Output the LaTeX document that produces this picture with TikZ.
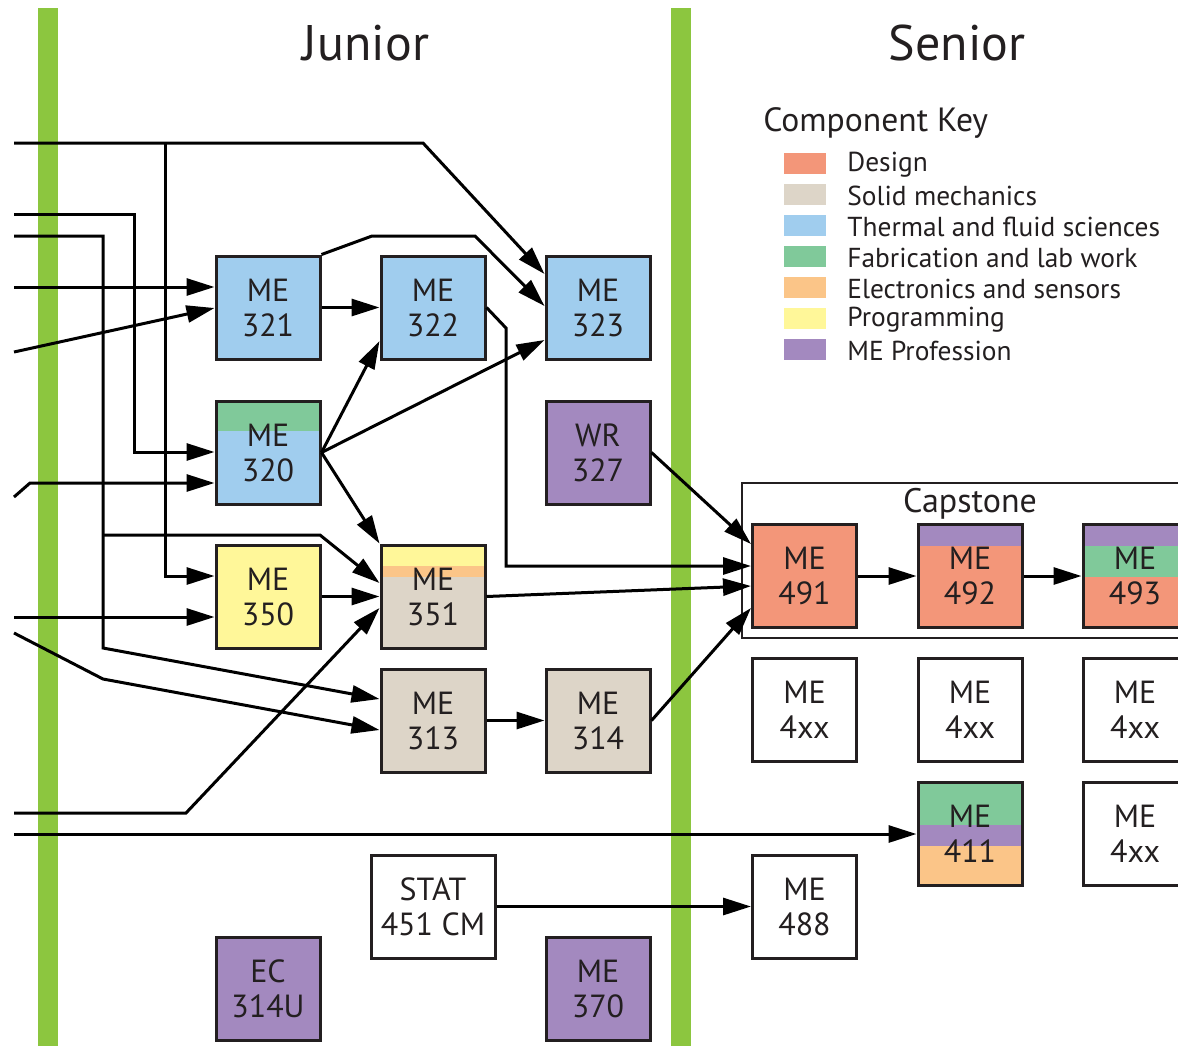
\documentclass[tikz,border=0pt]{standalone}
\usepackage{fontspec}
\setmainfont{PT Sans}
\usetikzlibrary{arrows.meta}
\definecolor{design}{RGB}{243,150,121}
\definecolor{solid}{RGB}{221,213,200}
\definecolor{thermal}{RGB}{160,205,238}
\definecolor{fab}{RGB}{128,201,154}
\definecolor{elec}{RGB}{251,197,136}
\definecolor{prog}{RGB}{255,247,153}
\definecolor{prof}{RGB}{163,137,191}
\definecolor{yearbar}{RGB}{140,198,63}
\definecolor{ink}{RGB}{35,31,32}
\newcommand\band[3]{\fill[#1] ([yshift=-#2]path picture bounding box.north west) rectangle ([yshift=-#3]path picture bounding box.north east);}
\tikzset{
  crs/.style      = {draw=ink, line width=1.5pt, minimum width=52pt, minimum height=51.5pt,
                     inner sep=0pt, align=center, text=ink, font=\fontsize{16}{17.5}\selectfont},
  wide crs/.style = {crs, minimum width=62pt},
  bands/.style    = {path picture={#1}},
  req/.style      = {-{Triangle[length=14pt, width=8.5pt]}, line width=1.5pt, draw=black},
  yr/.style       = {font=\fontsize{25}{30}\selectfont, text=ink},
  key/.style      = {fill=#1, minimum width=21pt, minimum height=10.5pt, inner sep=0pt},
  keytxt/.style   = {anchor=west, font=\fontsize{13.7}{15}\selectfont, text=ink, inner sep=0pt},
}

\begin{document}
\begin{tikzpicture}[x=0.5pt, y=-0.5pt]
  \useasboundingbox (0,0) rectangle (1178,1046);
  \clip (0,0) rectangle (1178,1046);
  \fill[white] (0,0) rectangle (1178,1046);

  % year dividers
  \fill[yearbar] (38,8) rectangle (58,1046);
  \fill[yearbar] (671,8) rectangle (691,1046);
  \node[yr] (junior) at (366,43) {Junior};
  \node[yr] (senior) at (957,43) {Senior};

  % component key
  \node[keytxt, font=\fontsize{16.8}{18}\selectfont] (keyhead) at (763,123) {Component Key};
  \node[key=design]  (kdes)  at (805,163) {};
  \node[keytxt] at (847,165) {Design};
  \node[key=solid]   (ksol)  at (805,194) {};
  \node[keytxt] at (847,196) {Solid mechanics};
  \node[key=thermal] (kthm)  at (805,225) {};
  \node[keytxt] at (847,227) {Thermal and fluid sciences};
  \node[key=fab]     (kfab)  at (805,256) {};
  \node[keytxt] at (847,258) {Fabrication and lab work};
  \node[key=elec]    (kele)  at (805,287) {};
  \node[keytxt] at (847,289) {Electronics and sensors};
  \node[key=prog]    (kprg)  at (805,318) {};
  \node[keytxt] at (847,320) {Programming};
  \node[key=prof]    (kprf)  at (805,349) {};
  \node[keytxt] at (847,351) {ME Profession};

  % capstone frame
  \draw[ink, line width=1.2pt] (742,483) rectangle (1200,638);
  \node[text=ink, font=\fontsize{17}{18}\selectfont] (capstone) at (970,504) {Capstone};

  % junior courses
  \node[crs, fill=thermal] (me321) at (268,307.5) {ME\\321};
  \node[crs, fill=thermal] (me322) at (433,307.5) {ME\\322};
  \node[crs, fill=thermal] (me323) at (598,307.5) {ME\\323};
  \node[crs, fill=thermal, bands={\band{fab}{0pt}{15pt}}] (me320) at (268,452.5) {ME\\320};
  \node[crs, fill=prof] (wr327) at (598,452.5) {WR\\327};
  \node[crs, fill=prog] (me350) at (268,596.5) {ME\\350};
  \node[crs, fill=solid, bands={\band{prog}{0pt}{10.5pt}\band{elec}{10.5pt}{16pt}}] (me351) at (433,596.5) {ME\\351};
  \node[crs, fill=solid] (me313) at (433,720.5) {ME\\313};
  \node[crs, fill=solid] (me314) at (598,720.5) {ME\\314};
  \node[wide crs, fill=white] (stat451) at (433,906.5) {STAT\\451 CM};
  \node[crs, fill=prof] (ec314u) at (268,988.5) {EC\\314U};
  \node[crs, fill=prof] (me370) at (598,988.5) {ME\\370};

  % senior courses
  \node[crs, fill=design] (me491) at (804.5,576) {ME\\491};
  \node[crs, fill=design, bands={\band{prof}{0pt}{10.5pt}}] (me492) at (970,576) {ME\\492};
  \node[crs, fill=design, bands={\band{prof}{0pt}{10.5pt}\band{fab}{10.5pt}{26pt}}] (me493) at (1135,576) {ME\\493};
  \node[crs, fill=white] (elecA) at (804.5,710) {ME\\4xx};
  \node[crs, fill=white] (elecB) at (970,710) {ME\\4xx};
  \node[crs, fill=white] (elecC) at (1135,710) {ME\\4xx};
  \node[crs, fill=elec, bands={\band{fab}{0pt}{21pt}\band{prof}{21pt}{31.5pt}}] (me411) at (970,834) {ME\\411};
  \node[crs, fill=white] (elecD) at (1135,834) {ME\\4xx};
  \node[crs, fill=white] (me488) at (804.5,906.5) {ME\\488};

  % prerequisites coming in from the sophomore year
  \coordinate (inA) at (14,143);
  \coordinate (inB) at (14,214);
  \coordinate (inC) at (14,236);
  \coordinate (inD) at (14,287);
  \coordinate (inE) at (14,352);
  \coordinate (inF) at (14,497);
  \coordinate (inG) at (14,617);
  \coordinate (inH) at (14,633);
  \coordinate (inI) at (14,813);
  \coordinate (inJ) at (14,834);
  \coordinate (jA) at (165,143);
  \coordinate (jC) at (103,535);

  \draw[req] (inA) -- (423,143) -- (me323.west |- 0,274);
  \draw[req] (jA) |- (me350.west |- 0,576);
  \draw[req] (inB) -| (134,452) -- (me320.west |- 0,452);
  \draw[req] (inC) -| (103,648) -- (me313.west |- 0,699);
  \draw[req] (jC) -- (320,535) -- (me351.west |- 0,583);
  \draw[req] (inD) -- (me321.west |- 0,287);
  \draw[req] (inE) -- (me321.west |- 0,308);
  \draw[req] (inF) -- (30,483) -- (me320.west |- 0,483);
  \draw[req] (inG) -- (me350.west |- 0,617);
  \draw[req] (inH) -- (103,679) -- (me313.west |- 0,730);
  \draw[req] (inI) -- (186,813) -- (me351.west |- 0,608);
  \draw[req] (inJ) -- (me411.west |- 0,834);

  % within the junior year and on to the senior year
  \draw[req] (me321) -- (me322);
  \draw[req] (me321.north east) -- (372,236) -- (475,236) -- (me323.west |- 0,306);
  \draw[req] (me320.east) -- (me322.west |- 0,341);
  \draw[req] (me320.east) -- (me323.west |- 0,340);
  \draw[req] (me320.east) -- (me351.north west);
  \draw[req] (me350) -- (me351);
  \draw[req] (me313) -- (me314);
  \draw[req] (me322.east) -- (506,328) -- (506,566) -- (me491.west |- 0,566);
  \draw[req] (me351.east) -- (me491.west |- 0,586);
  \draw[req] (wr327.east) -- (me491.west |- 0,544);
  \draw[req] (me314.east) -- (me491.west |- 0,608);
  \draw[req] (me491) -- (me492);
  \draw[req] (me492) -- (me493);
  \draw[req] (stat451) -- (me488);
\end{tikzpicture}
\end{document}
